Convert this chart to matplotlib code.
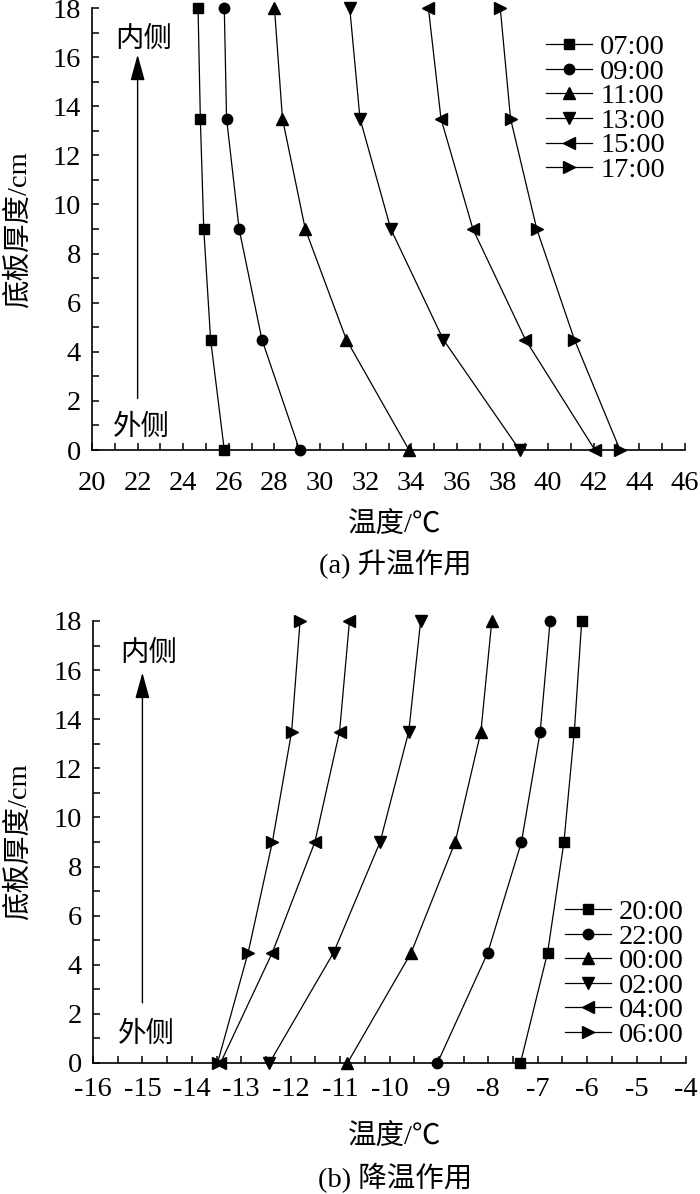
import matplotlib
matplotlib.use("Agg")
import matplotlib.pyplot as plt
from matplotlib.ticker import MultipleLocator

plt.rcParams['font.family'] = ['Liberation Serif', 'Noto Sans CJK SC']
plt.rcParams['axes.unicode_minus'] = False

depth = [0, 4.5, 9, 13.5, 18]

# (a) heating
heat_labels = ['07:00', '09:00', '11:00', '13:00', '15:00', '17:00']
heat_0700 = [25.8, 25.2, 24.9, 24.75, 24.65]
heat_0900 = [29.1, 27.45, 26.45, 25.9, 25.8]
heat_1100 = [33.9, 31.15, 29.35, 28.35, 28.0]
heat_1300 = [38.75, 35.4, 33.1, 31.75, 31.3]
heat_1500 = [42.05, 39.0, 36.7, 35.3, 34.75]
heat_1700 = [43.15, 41.15, 39.5, 38.35, 37.9]
heat_series = [heat_0700, heat_0900, heat_1100, heat_1300, heat_1500, heat_1700]

# (b) cooling
cool_labels = ['20:00', '22:00', '00:00', '02:00', '04:00', '06:00']
cool_2000 = [-7.35, -6.8, -6.47, -6.26, -6.11]
cool_2200 = [-9.03, -8.01, -7.33, -6.95, -6.75]
cool_0000 = [-10.85, -9.56, -8.67, -8.15, -7.93]
cool_0200 = [-12.43, -11.13, -10.19, -9.61, -9.37]
cool_0400 = [-13.42, -12.37, -11.51, -11.01, -10.81]
cool_0600 = [-13.48, -12.86, -12.37, -11.98, -11.81]
cool_series = [cool_2000, cool_2200, cool_0000, cool_0200, cool_0400, cool_0600]

markers = ['s', 'o', '^', 'v', '<', '>']
msizes = [7, 7.5, 8.5, 8.5, 8.5, 8.5]
FS = 20.5

fig = plt.figure(figsize=(7, 11.94), dpi=100)
ax1 = fig.add_axes([92/700, 1 - 450/1194, 593/700, 442/1194])
ax2 = fig.add_axes([93/700, 1 - 1063/1194, 593/700, 442/1194])


def style(ax, xlim, xmajor, xminor, xpad):
    ax.set_xlim(*xlim)
    ax.set_ylim(0, 18)
    ax.spines['top'].set_visible(False)
    ax.spines['right'].set_visible(False)
    for s in ['left', 'bottom']:
        ax.spines[s].set_linewidth(1.2)
    ax.xaxis.set_major_locator(MultipleLocator(xmajor))
    ax.xaxis.set_minor_locator(MultipleLocator(xminor))
    ax.yaxis.set_major_locator(MultipleLocator(2))
    ax.yaxis.set_minor_locator(MultipleLocator(1))
    ax.tick_params(which='both', direction='in', length=5, width=1.1,
                   top=False, right=False, labelsize=FS)
    ax.tick_params(axis='x', which='major', pad=xpad)
    ax.tick_params(axis='y', which='major', pad=8)


style(ax1, (20, 46), 2, 1, 15)
style(ax2, (-16, -4), 1, 0.5, 10)

for vals, m, ms, lab in zip(heat_series, markers, msizes, heat_labels):
    ax1.plot(vals, depth, color='black', lw=0.9, marker=m, markersize=ms,
             label=lab, clip_on=False, zorder=3)
for vals, m, ms, lab in zip(cool_series, markers, msizes, cool_labels):
    ax2.plot(vals, depth, color='black', lw=0.9, marker=m, markersize=ms,
             label=lab, clip_on=False, zorder=3)

arrow = dict(arrowstyle='-|>,head_length=0.8,head_width=0.22', color='black',
             lw=1.0, mutation_scale=20, shrinkA=0, shrinkB=0)
ax1.annotate('', xy=(22, 16.1), xytext=(22, 2.1), arrowprops=arrow)
ax1.text(22.25, 16.7, '内侧', fontsize=FS, ha='center', va='center')
ax1.text(22.15, 0.92, '外侧', fontsize=FS, ha='center', va='center')
ax2.annotate('', xy=(-15, 15.9), xytext=(-15, 2.45), arrowprops=arrow)
ax2.text(-14.88, 16.65, '内侧', fontsize=FS, ha='center', va='center')
ax2.text(-14.92, 1.16, '外侧', fontsize=FS, ha='center', va='center')

leg_kw = dict(frameon=False, fontsize=FS, borderpad=0, borderaxespad=0,
              handlelength=1.6, handletextpad=0.3, labelspacing=-0.05)
ax1.legend(loc='upper left', bbox_to_anchor=(0.766, 0.94), **leg_kw)
ax2.legend(loc='lower left', bbox_to_anchor=(0.796, 0.034), **leg_kw)

fig.text(395/700, 1 - 526/1194, '温度/℃', fontsize=FS, ha='center', va='center')
fig.text(395/700, 1 - 564/1194, '(a) 升温作用', fontsize=FS, ha='center', va='center')
fig.text(395/700, 1 - 1138/1194, '温度/℃', fontsize=FS, ha='center', va='center')
fig.text(395/700, 1 - 1178/1194, '(b) 降温作用', fontsize=FS, ha='center', va='center')
fig.text(18/700, 1 - 230/1194, '底板厚度/cm', fontsize=FS, ha='center', va='center', rotation=90)
fig.text(18/700, 1 - 842/1194, '底板厚度/cm', fontsize=FS, ha='center', va='center', rotation=90)

fig.savefig('out.png', dpi=100)
